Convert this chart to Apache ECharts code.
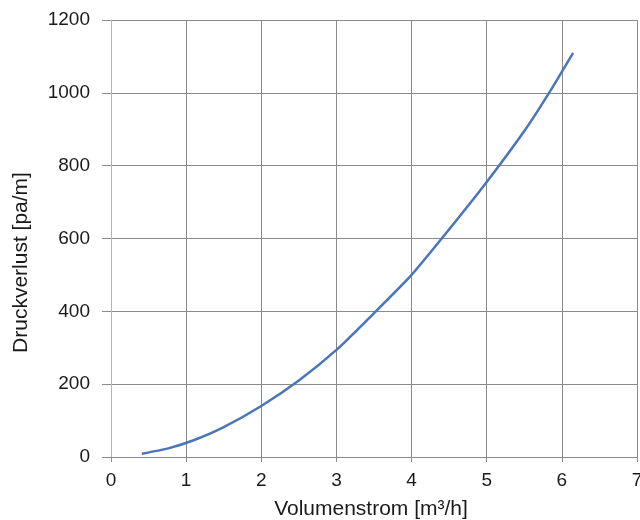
<!DOCTYPE html>
<html>
<head>
<meta charset="utf-8">
<script src="https://cdn.jsdelivr.net/npm/echarts@6/dist/echarts.min.js"></script>
<style>
html,body{margin:0;padding:0;background:#fff;}
#chart{width:640px;height:520px;}
</style>
</head>
<body>
<div id="chart"></div>
<script>
const flowRates = [0.41, 0.75, 1.1, 1.5, 2.0, 2.5, 3.0, 3.5, 4.0, 4.5, 5.0, 5.5, 5.83, 6.15];
const pressureLoss = [9, 23, 46, 82, 140, 210, 294, 395, 500, 625, 755, 895, 1000, 1110];
const xTicks = [0, 1, 2, 3, 4, 5, 6, 7];
const yTicks = [0, 200, 400, 600, 800, 1000, 1200];
const xName = 'Volumenstrom [m³/h]';
const yName = 'Druckverlust [pa/m]';

const chart = echarts.init(document.getElementById('chart'), null, {renderer: 'canvas'});
const font = 'Liberation Sans, Arial, sans-serif';
chart.setOption({
  animation: false,
  backgroundColor: '#ffffff',
  grid: {left: 111, right: 3, top: 20, bottom: 63, containLabel: false, outerBoundsMode: 'none'},
  xAxis: {
    type: 'value',
    min: xTicks[0], max: xTicks[xTicks.length - 1], interval: 1,
    name: xName,
    nameLocation: 'middle',
    nameGap: 42,
    nameTextStyle: {fontFamily: font, fontSize: 21, color: '#1a1a1a', padding: [0, 6, 0, 0]},
    axisLine: {show: true, lineStyle: {color: '#8a8a8a', width: 1}},
    axisTick: {show: true, length: 5, lineStyle: {color: '#8a8a8a'}},
    axisLabel: {fontFamily: font, fontSize: 19, color: '#1a1a1a', margin: 14, formatter: v => String(v)},
    splitLine: {show: true, lineStyle: {color: '#8a8a8a', width: 1}}
  },
  yAxis: {
    type: 'value',
    min: yTicks[0], max: yTicks[yTicks.length - 1], interval: 200,
    name: yName,
    nameLocation: 'middle',
    nameGap: 79,
    nameTextStyle: {fontFamily: font, fontSize: 21, color: '#1a1a1a', padding: [0, 48, 0, 0]},
    axisLine: {show: true, lineStyle: {color: '#b5b5b5', width: 1}},
    axisTick: {show: true, length: 9, lineStyle: {color: '#8a8a8a'}},
    axisLabel: {fontFamily: font, fontSize: 19, color: '#1a1a1a', margin: 21, formatter: v => String(v)},
    splitLine: {show: true, lineStyle: {color: '#8a8a8a', width: 1}}
  },
  series: [{
    type: 'line',
    data: flowRates.map((x, i) => [x, pressureLoss[i]]),
    smooth: 0.2,
    showSymbol: false,
    symbol: 'none',
    lineStyle: {color: '#4a76b8', width: 2.5}
  }]
});
</script>
</body>
</html>
